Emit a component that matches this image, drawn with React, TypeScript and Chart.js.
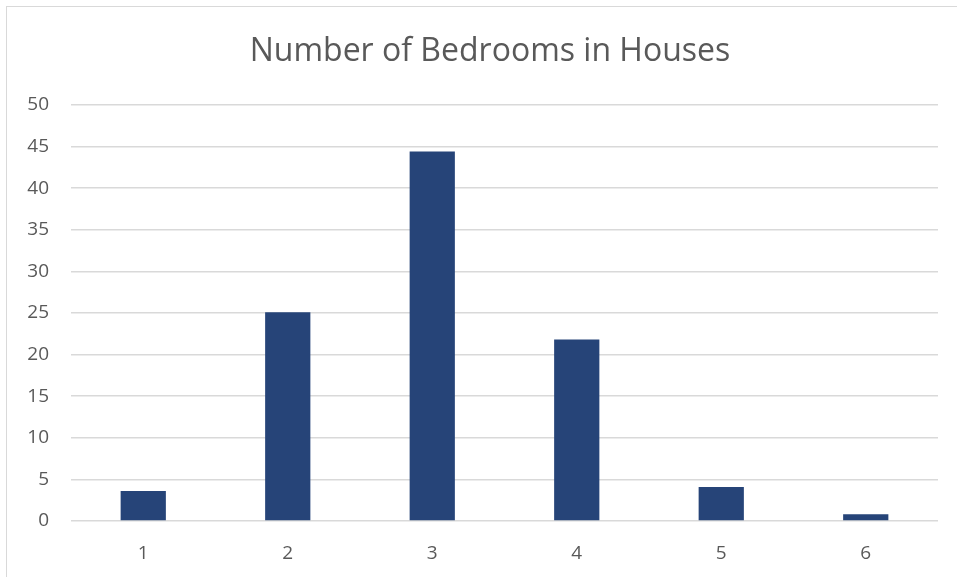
import React, { useEffect, useRef } from "react";
import { Chart, registerables } from "chart.js";

Chart.register(...registerables);

const categories = ["1", "2", "3", "4", "5", "6"];
const houseCounts = [3.6, 25.1, 44.4, 21.8, 4.1, 0.8];
const titleText = "Number of Bedrooms in Houses";

const titlePlugin = {
  id: "excelTitle",
  afterDraw(chart: any) {
    const ctx = chart.ctx;
    ctx.save();
    ctx.fillStyle = "#595959";
    ctx.font = "normal 32px 'Open Sans'";
    ctx.textAlign = "center";
    ctx.textBaseline = "middle";
    ctx.fillText(titleText, 490, 52);
    ctx.restore();
  },
};

export default function App() {
  const canvasRef = useRef<HTMLCanvasElement | null>(null);

  useEffect(() => {
    if (!canvasRef.current) return;
    const chart = new Chart(canvasRef.current, {
      type: "bar",
      data: {
        labels: categories,
        datasets: [
          {
            data: houseCounts,
            backgroundColor: "#264478",
            borderWidth: 0,
            categoryPercentage: 1,
            barPercentage: 0.313,
          },
        ],
      },
      plugins: [titlePlugin],
      options: {
        animation: false,
        responsive: false,
        maintainAspectRatio: false,
        layout: { padding: { left: 0, right: 19, top: 105, bottom: 0 } },
        plugins: {
          legend: { display: false },
          tooltip: { enabled: false },
          title: { display: false },
        },
        scales: {
          x: {
            grid: { display: false, drawTicks: false },
            border: { display: false },
            ticks: {
              color: "#595959",
              font: { family: "'Open Sans'", size: 19 },
              padding: 21,
            },
            afterFit: (scale: any) => {
              scale.height = 56;
            },
          },
          y: {
            min: 0,
            max: 50,
            grid: { color: "#d9d9d9", lineWidth: 1.5, drawTicks: false },
            border: { display: false },
            ticks: {
              stepSize: 5,
              color: "#595959",
              font: { family: "'Open Sans'", size: 19 },
              padding: 22,
            },
            afterFit: (scale: any) => {
              scale.width = 71;
            },
          },
        },
      },
    });
    return () => chart.destroy();
  }, []);

  return (
    <div style={{ position: "fixed", left: 0, top: 0, width: 957, height: 577, background: "#fff", overflow: "hidden" }}>
      <div
        style={{
          position: "absolute",
          left: 6,
          top: 6,
          width: 1200,
          height: 1200,
          border: "1.5px solid #d9d9d9",
          boxSizing: "border-box",
        }}
      />
      <canvas ref={canvasRef} width={957} height={577} style={{ position: "absolute", left: 0, top: 0 }} />
    </div>
  );
}
